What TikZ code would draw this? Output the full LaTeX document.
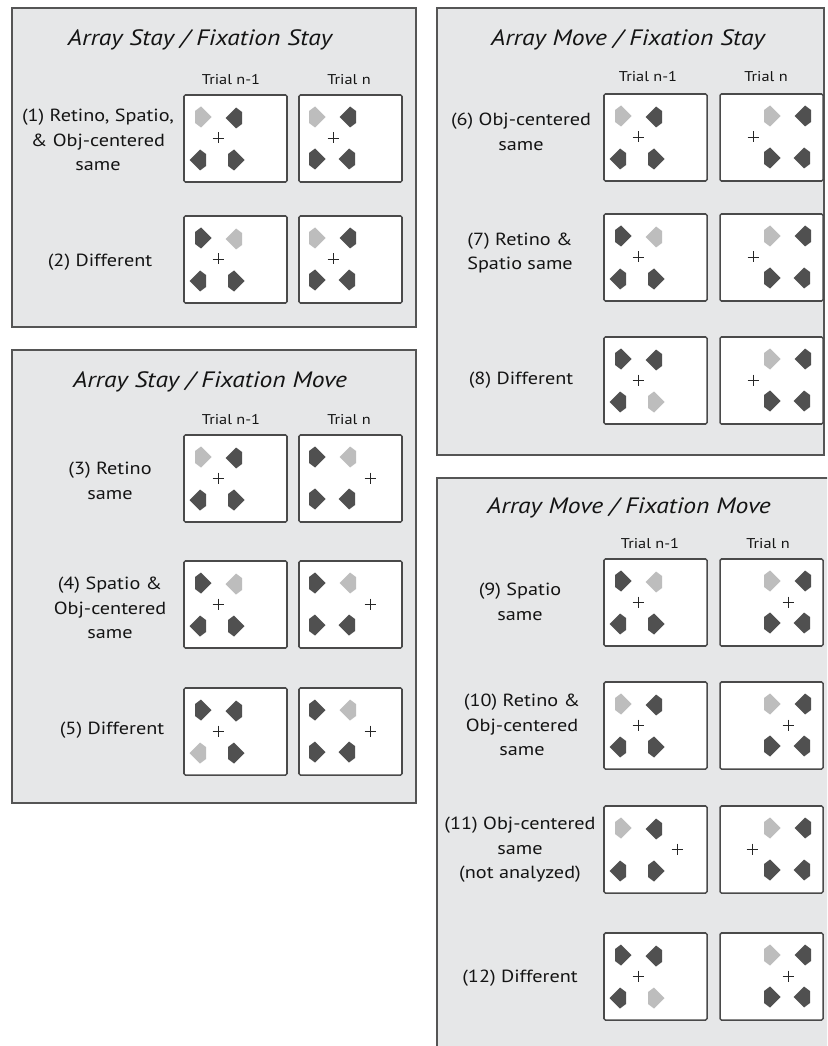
\documentclass[tikz,border=0pt]{standalone}
\usepackage{fontspec}
\setmainfont[FakeStretch=1.15]{PT Sans}
\definecolor{panelgray}{HTML}{E6E7E8}
\definecolor{paneledge}{HTML}{555555}
\definecolor{boxedge}{HTML}{4A4A4A}
\definecolor{shapedark}{HTML}{505050}
\definecolor{shapelight}{HTML}{BDBDBD}
\tikzset{
  panel/.style={fill=panelgray,draw=paneledge,line width=1.2pt},
  stimframe/.style={draw=boxedge,fill=white,line width=1.3pt,rounded corners=1.2pt,minimum width=3.09cm,minimum height=2.61cm,inner sep=0pt,outer sep=0pt,anchor=north west},
  darksh/.style={fill=shapedark},
  lightsh/.style={fill=shapelight},
  crossln/.style={draw=black!85,line width=0.8pt},
  ptitle/.style={font=\fontsize{19}{22}\selectfont\itshape,text=black!92},
  trial/.style={font=\fontsize{12.1}{14}\selectfont,text=black!92},
  cond/.style={font=\fontsize{15}{20.9}\selectfont,align=center,text=black!92}
}
\newcommand\pR[3]{\fill[#3,shift={(#1,#2)}] (8.5,0) -- (-2,-10.5) -- (-8,-6) -- (-8,6) -- (-2,10.5) -- cycle;}
\newcommand\pL[3]{\fill[#3,shift={(#1,#2)}] (-8.5,0) -- (2,-10.5) -- (8,-6) -- (8,6) -- (2,10.5) -- cycle;}
\newcommand\setcols[1]{\def\cTL{darksh}\def\cTR{darksh}\def\cBL{darksh}\def\cBR{darksh}%
  \ifcase#1\or\def\cTL{lightsh}\or\def\cTR{lightsh}\or\def\cBL{lightsh}\or\def\cBR{lightsh}\fi}
% #1 name, #2 left, #3 top, #4 config 0=A 1=B, #5 array dx, #6 light index, #7 cross x
\newcommand\stimbox[7]{%
  \node[stimframe] (#1) at (#2,#3) {};
  \setcols{#6}%
  \ifnum#4=0
    \pR{#2+19+#5}{#3+22}{\cTL}
    \pL{#2+50+#5}{#3+23}{\cTR}
    \pL{#2+14+#5}{#3+65}{\cBL}
    \pR{#2+52+#5}{#3+65}{\cBR}
  \else
    \pR{#2+18+#5}{#3+22}{\cTL}
    \pL{#2+49+#5}{#3+22}{\cTR}
    \pR{#2+18+#5}{#3+64}{\cBL}
    \pL{#2+48+#5}{#3+64}{\cBR}
  \fi
  \draw[crossln] (#2+#7-5.5,#3+43) -- (#2+#7+5.5,#3+43) (#2+#7,#3+37.5) -- (#2+#7,#3+48.5);
}
\begin{document}
\begin{tikzpicture}[x=0.03cm,y=-0.03cm]
\useasboundingbox (0,0) rectangle (827,1046);
\clip (0,0) rectangle (827,1046);
\fill[white] (0,0) rectangle (827,1046);
% panels
\path[panel] (12,8) rectangle (416,327);
\path[panel] (12,350) rectangle (416,803);
\path[panel] (437,8) rectangle (824,455);
\path[panel] (437,478) rectangle (832,1060);
% titles
\node[ptitle] (t1) at (200,40) {Array Stay / Fixation Stay};
\node[ptitle] (t2) at (210,382) {Array Stay / Fixation Move};
\node[ptitle] (t3) at (628,40) {Array Move / Fixation Stay};
\node[ptitle] (t4) at (629,508) {Array Move / Fixation Move};
% trial labels
\node[trial] (h1a) at (231,80) {Trial n-1};
\node[trial] (h1b) at (349,80) {Trial n};
\node[trial] (h2a) at (231,420) {Trial n-1};
\node[trial] (h2b) at (349,420) {Trial n};
\node[trial] (h3a) at (648,77) {Trial n-1};
\node[trial] (h3b) at (766,77) {Trial n};
\node[trial] (h4a) at (650,544) {Trial n-1};
\node[trial] (h4b) at (768,544) {Trial n};
% condition labels
\node[cond] (c1) at (98,140) {(1) Retino, Spatio,\\\& Obj-centered\\same};
\node[cond] (c2) at (100,262) {(2) Different};
\node[cond] (c3) at (110,481) {(3) Retino\\same};
\node[cond] (c4) at (110,608) {(4) Spatio \&\\Obj-centered\\same};
\node[cond] (c5) at (112,730) {(5) Different};
\node[cond] (c6) at (521,132) {(6) Obj-centered\\same};
\node[cond] (c7) at (520,253) {(7) Retino \&\\Spatio same};
\node[cond] (c8) at (521,380) {(8) Different};
\node[cond] (c9) at (520,602) {(9) Spatio\\same};
\node[cond] (c10) at (522,725) {(10) Retino \&\\Obj-centered\\same};
\node[cond] (c11) at (520,850) {(11) Obj-centered\\same\\(not analyzed)};
\node[cond] (c12) at (520,978) {(12) Different};
% panel 1
\stimbox{b1a}{184}{95}{0}{0}{1}{34}
\stimbox{b1b}{299}{95}{1}{0}{1}{34}
\stimbox{b2a}{184}{216}{0}{0}{2}{34}
\stimbox{b2b}{299}{216}{1}{0}{1}{34}
% panel 2
\stimbox{b3a}{184}{435}{0}{0}{1}{34}
\stimbox{b3b}{299}{435}{1}{0}{2}{71}
\stimbox{b4a}{184}{561}{0}{0}{2}{34}
\stimbox{b4b}{299}{561}{1}{0}{2}{71}
\stimbox{b5a}{184}{688}{0}{0}{3}{34}
\stimbox{b5b}{299}{688}{1}{0}{2}{71}
% panel 3
\stimbox{b6a}{604}{94}{0}{0}{1}{34}
\stimbox{b6b}{720}{94}{1}{34}{1}{33}
\stimbox{b7a}{604}{214}{0}{0}{2}{34}
\stimbox{b7b}{720}{214}{1}{34}{1}{33}
\stimbox{b8a}{604}{337}{0}{0}{4}{34}
\stimbox{b8b}{720}{337}{1}{34}{1}{33}
% panel 4
\stimbox{b9a}{604}{559}{0}{0}{2}{34}
\stimbox{b9b}{720}{559}{1}{34}{1}{68}
\stimbox{b10a}{604}{682}{0}{0}{1}{34}
\stimbox{b10b}{720}{682}{1}{34}{1}{68}
\stimbox{b11a}{604}{806}{0}{0}{1}{73}
\stimbox{b11b}{720}{806}{1}{34}{1}{32}
\stimbox{b12a}{604}{933}{0}{0}{4}{34}
\stimbox{b12b}{720}{933}{1}{34}{1}{68}
\end{tikzpicture}
\end{document}
